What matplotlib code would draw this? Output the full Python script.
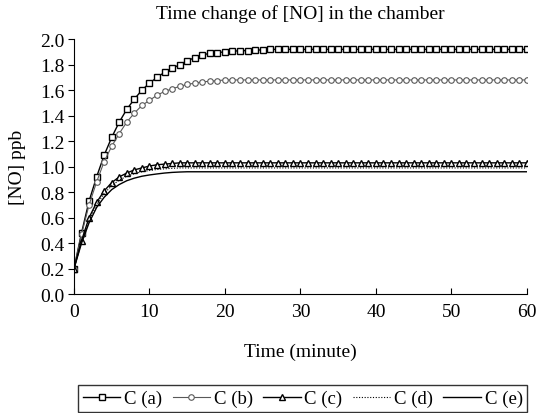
import matplotlib.pyplot as plt
import numpy as np

# time in minutes, one reading per minute
minutes = list(range(0, 61))

conc_a = [0.20, 0.48, 0.73, 0.92, 1.09, 1.23, 1.35, 1.45, 1.53, 1.60,
          1.655, 1.70, 1.74, 1.77, 1.80, 1.83, 1.855, 1.875, 1.89, 1.895,
          1.90, 1.905, 1.91, 1.91, 1.915, 1.915, 1.92, 1.92, 1.92, 1.92,
          1.92, 1.92, 1.92, 1.92, 1.92, 1.92, 1.92, 1.92, 1.92, 1.92,
          1.92, 1.92, 1.92, 1.92, 1.92, 1.92, 1.92, 1.92, 1.92, 1.92,
          1.92, 1.92, 1.92, 1.92, 1.92, 1.92, 1.92, 1.92, 1.92, 1.92,
          1.92]
conc_b = [0.20, 0.47, 0.70, 0.88, 1.04, 1.16, 1.26, 1.35, 1.42, 1.48,
          1.52, 1.56, 1.59, 1.61, 1.63, 1.645, 1.655, 1.665, 1.67, 1.675,
          1.68, 1.68, 1.68, 1.68, 1.68, 1.68, 1.68, 1.68, 1.68, 1.68,
          1.68, 1.68, 1.68, 1.68, 1.68, 1.68, 1.68, 1.68, 1.68, 1.68,
          1.68, 1.68, 1.68, 1.68, 1.68, 1.68, 1.68, 1.68, 1.68, 1.68,
          1.68, 1.68, 1.68, 1.68, 1.68, 1.68, 1.68, 1.68, 1.68, 1.68,
          1.68]
conc_c = [0.20, 0.42, 0.60, 0.72, 0.81, 0.875, 0.92, 0.95, 0.975, 0.99,
          1.005, 1.015, 1.02, 1.025, 1.03, 1.03, 1.03, 1.03, 1.03, 1.03,
          1.03, 1.03, 1.03, 1.03, 1.03, 1.03, 1.03, 1.03, 1.03, 1.03,
          1.03, 1.03, 1.03, 1.03, 1.03, 1.03, 1.03, 1.03, 1.03, 1.03,
          1.03, 1.03, 1.03, 1.03, 1.03, 1.03, 1.03, 1.03, 1.03, 1.03,
          1.03, 1.03, 1.03, 1.03, 1.03, 1.03, 1.03, 1.03, 1.03, 1.03,
          1.03]
conc_d = [0.20, 0.41, 0.58, 0.70, 0.79, 0.85, 0.895, 0.925, 0.945, 0.96,
          0.97, 0.978, 0.983, 0.987, 0.99, 0.99, 0.99, 0.99, 0.99, 0.99,
          0.99, 0.99, 0.99, 0.99, 0.99, 0.99, 0.99, 0.99, 0.99, 0.99,
          0.99, 0.99, 0.99, 0.99, 0.99, 0.99, 0.99, 0.99, 0.99, 0.99,
          0.99, 0.99, 0.99, 0.99, 0.99, 0.99, 0.99, 0.99, 0.99, 0.99,
          0.99, 0.99, 0.99, 0.99, 0.99, 0.99, 0.99, 0.99, 0.99, 0.99,
          0.99]
conc_e = [0.20, 0.40, 0.56, 0.68, 0.76, 0.82, 0.86, 0.89, 0.91, 0.925,
          0.935, 0.943, 0.95, 0.955, 0.958, 0.96, 0.96, 0.96, 0.96, 0.96,
          0.96, 0.96, 0.96, 0.96, 0.96, 0.96, 0.96, 0.96, 0.96, 0.96,
          0.96, 0.96, 0.96, 0.96, 0.96, 0.96, 0.96, 0.96, 0.96, 0.96,
          0.96, 0.96, 0.96, 0.96, 0.96, 0.96, 0.96, 0.96, 0.96, 0.96,
          0.96, 0.96, 0.96, 0.96, 0.96, 0.96, 0.96, 0.96, 0.96, 0.96,
          0.96]

x_ticks = [0, 10, 20, 30, 40, 50, 60]
y_ticks = [0.0, 0.2, 0.4, 0.6, 0.8, 1.0, 1.2, 1.4, 1.6, 1.8, 2.0]

plt.rcParams['font.family'] = ['Liberation Serif', 'DejaVu Serif']
fs = 14

fig = plt.figure(figsize=(5.36, 4.14), dpi=100)
ax = fig.add_axes([0.138, 0.287, 0.845, 0.616])

ax.plot(minutes, conc_a, color='black', linewidth=1.0, marker='s', markersize=5,
        markerfacecolor='white', markeredgewidth=1.0, label='C (a)')
ax.plot(minutes, conc_b, color='0.35', linewidth=0.8, marker='o', markersize=4,
        markerfacecolor='white', markeredgewidth=0.8, label='C (b)')
ax.plot(minutes, conc_c, color='black', linewidth=1.0, marker='^', markersize=5,
        markerfacecolor='white', markeredgewidth=1.0, label='C (c)')
ax.plot(minutes, conc_d, color='black', linewidth=0.8, linestyle=(0, (1, 1.5)),
        label='C (d)')
ax.plot(minutes, conc_e, color='black', linewidth=1.0, label='C (e)')

ax.set_xlim(0, 60)
ax.set_ylim(0, 2.0)
ax.set_xticks(x_ticks)
ax.set_yticks(y_ticks)
ax.set_yticklabels(['%.1f' % v for v in y_ticks])
ax.spines['top'].set_visible(False)
ax.spines['right'].set_visible(False)
ax.tick_params(axis='x', direction='in', length=4, labelsize=fs, pad=6)
ax.tick_params(axis='y', direction='out', length=4, labelsize=fs, pad=3)

ax.set_title('Time change of [NO] in the chamber', fontsize=fs, pad=15)
ax.set_xlabel('Time (minute)', fontsize=fs, labelpad=17)
ax.set_ylabel('[NO] ppb', fontsize=fs, labelpad=10)

leg = fig.legend(loc='lower left', bbox_to_anchor=(0.146, 0.002, 0.838, 0.075),
                 mode='expand', ncol=5, fontsize=13.5, frameon=True, fancybox=False,
                 handlelength=2.0, handletextpad=0.2, columnspacing=0.5,
                 borderaxespad=0.0, borderpad=0.25)
leg.get_frame().set_edgecolor('black')
leg.get_frame().set_linewidth(1.0)

fig.savefig('out.png', dpi=100)
